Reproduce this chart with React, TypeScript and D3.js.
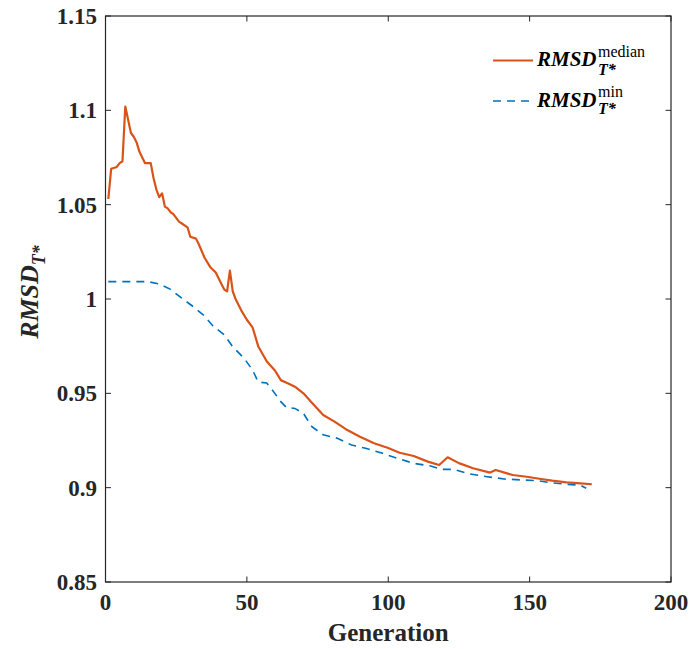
import React from "react";
import * as d3 from "d3";

const medianGen = [1,2,4,5,6,7,9,10,11,12,14,16,17,18,19,20,21,22,23,24,26,27,29,30,32,33,35,37,39,41,42,43,44,45,46,48,50,52,54,57,60,62,65,67,70,73,77,81,85,90,95,100,104,109,114,118,121,125,130,136,138,144,149,154,158,163,168,172];
const medianVal = [1.053,1.069,1.070,1.072,1.073,1.102,1.088,1.086,1.083,1.078,1.072,1.072,1.064,1.058,1.054,1.056,1.049,1.048,1.046,1.045,1.041,1.040,1.038,1.033,1.032,1.029,1.022,1.017,1.014,1.008,1.005,1.004,1.015,1.004,1.000,0.994,0.989,0.985,0.975,0.967,0.962,0.957,0.955,0.9535,0.950,0.945,0.9385,0.935,0.931,0.927,0.9235,0.921,0.9185,0.9168,0.9138,0.912,0.9161,0.913,0.9103,0.908,0.9094,0.9067,0.9058,0.9046,0.9037,0.9028,0.9023,0.9018];

const minGen = [1,15,19,23,27,31,35,38,42,45,49,52,54,57,59,62,64,67,70,73,77,82,87,92,98,103,109,115,119,123,129,135,141,147,153,157,163,168,170];
const minVal = [1.0092,1.0092,1.008,1.0051,1.0004,0.996,0.991,0.9857,0.981,0.9747,0.9686,0.9624,0.956,0.9555,0.9518,0.9456,0.9425,0.942,0.9394,0.9323,0.928,0.9262,0.9226,0.9209,0.9182,0.9156,0.9129,0.9115,0.9097,0.9097,0.9072,0.9058,0.9046,0.9041,0.9037,0.9027,0.9018,0.9013,0.8997];

const xTicks = [0, 50, 100, 150, 200];
const yTicks = [0.85, 0.9, 0.95, 1, 1.05, 1.1, 1.15];
const yTickLabels = ["0.85", "0.9", "0.95", "1", "1.05", "1.1", "1.15"];

const W = 692, H = 649;
const L = 105.5, R = 671, T = 16, B = 582;
const ORANGE = "#D95319";
const BLUE = "#0072BD";
const FONT = "'Liberation Serif', 'Times New Roman', serif";

export default function App() {
  const x = d3.scaleLinear().domain([0, 200]).range([L, R]);
  const y = d3.scaleLinear().domain([0.85, 1.15]).range([B, T]);
  const line = d3.line<[number, number]>().x(d => x(d[0])).y(d => y(d[1]));
  const medPts = medianGen.map((g, i) => [g, medianVal[i]] as [number, number]);
  const minPts = minGen.map((g, i) => [g, minVal[i]] as [number, number]);
  const tl = 5.5;
  return (
    <svg width={W} height={H} style={{ position: "absolute", left: 0, top: 0, background: "#fff" }} fontFamily={FONT}>
      <rect x={0} y={0} width={W} height={H} fill="#fff" />
      <path d={line(minPts) || ""} fill="none" stroke={BLUE} strokeWidth={1.6} strokeDasharray="8,6" />
      <path d={line(medPts) || ""} fill="none" stroke={ORANGE} strokeWidth={2.2} strokeLinejoin="round" />
      {/* frame */}
      <rect x={L} y={T} width={R - L} height={B - T} fill="none" stroke="#262626" strokeWidth={1.2} />
      {xTicks.map(t => (
        <g key={"x" + t}>
          <line x1={x(t)} x2={x(t)} y1={B} y2={B - tl} stroke="#262626" strokeWidth={1} />
          <line x1={x(t)} x2={x(t)} y1={T} y2={T + tl} stroke="#262626" strokeWidth={1} />
          <text x={x(t)} y={610} textAnchor="middle" fontSize={23} fontWeight="bold" fill="#262626">{t}</text>
        </g>
      ))}
      {yTicks.map((t, i) => (
        <g key={"y" + t}>
          <line x1={L} x2={L + tl} y1={y(t)} y2={y(t)} stroke="#262626" strokeWidth={1} />
          <line x1={R} x2={R - tl} y1={y(t)} y2={y(t)} stroke="#262626" strokeWidth={1} />
          <text x={97} y={y(t) + 8} textAnchor="end" fontSize={23} fontWeight="bold" fill="#262626">{yTickLabels[i]}</text>
        </g>
      ))}
      <text x={(L + R) / 2} y={641} textAnchor="middle" fontSize={25} fontWeight="bold" fill="#262626">Generation</text>
      <g transform="translate(38,292) rotate(-90)">
        <text textAnchor="middle" fontSize={26} fontWeight="bold" fontStyle="italic" fill="#262626">
          <tspan>RMSD</tspan>
          <tspan dy={7} fontSize={18}>T*</tspan>
        </text>
      </g>
      {/* legend */}
      <line x1={493} x2={533} y1={60.5} y2={60.5} stroke={ORANGE} strokeWidth={2.2} />
      <text x={537} y={66} fontSize={21} fontWeight="bold" fontStyle="italic" fill="#000">RMSD</text>
      <text x={598} y={57} fontSize={16} fill="#000">median</text>
      <text x={598} y={75} fontSize={16} fontWeight="bold" fontStyle="italic" fill="#000">T*</text>
      <line x1={493} x2={533} y1={101} y2={101} stroke={BLUE} strokeWidth={1.6} strokeDasharray="8,6" />
      <text x={537} y={107} fontSize={21} fontWeight="bold" fontStyle="italic" fill="#000">RMSD</text>
      <text x={598} y={97} fontSize={16} fill="#000">min</text>
      <text x={598} y={114} fontSize={16} fontWeight="bold" fontStyle="italic" fill="#000">T*</text>
    </svg>
  );
}
